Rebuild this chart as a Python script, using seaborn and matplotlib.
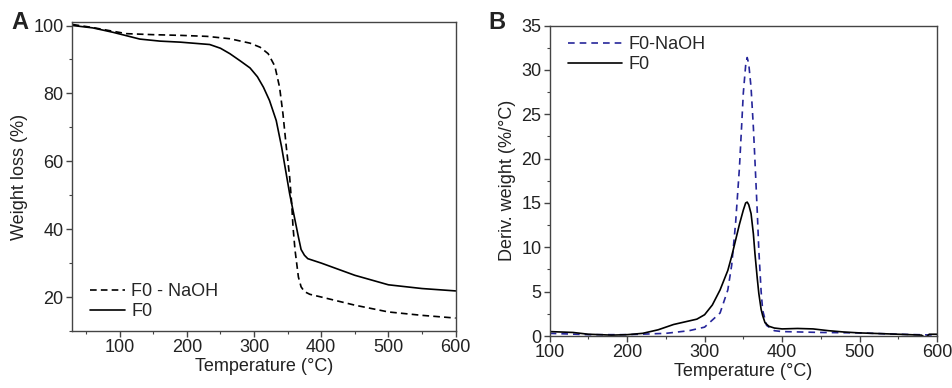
import numpy as np
import pandas as pd
import seaborn as sns
import matplotlib.pyplot as plt
from matplotlib.ticker import MultipleLocator

# panel A: TGA curves
tga_temp_naoh = [30, 60, 90, 110, 150, 190, 230, 264, 294, 309, 321, 331, 338, 343, 348,
                 353, 356, 358, 361, 366, 370, 375, 383, 400, 450, 500, 550, 600]
tga_naoh = [100.3, 99.4, 98.3, 97.6, 97.3, 97.1, 96.8, 96.1, 94.8, 93.6, 91.7, 88.0, 81.8,
            74.0, 64.2, 55.3, 47.5, 40.6, 33.8, 25.9, 23.0, 21.6, 20.8, 20.0, 17.6, 15.6,
            14.6, 13.8]
tga_temp_f0 = [30, 60, 90, 110, 130, 160, 190, 234, 250, 264, 280, 294, 305, 314, 323,
               333, 341, 347, 353, 361, 366, 370, 375, 380, 400, 450, 500, 550, 600]
tga_f0 = [100.0, 99.3, 98.0, 97.0, 96.0, 95.4, 95.1, 94.4, 93.3, 91.7, 89.5, 87.5, 84.9,
          81.8, 77.9, 72.0, 64.2, 57.3, 50.4, 42.6, 37.7, 34.0, 32.3, 31.3, 30.0, 26.4,
          23.6, 22.5, 21.8]

# panel B: DTG curves
dtg_temp_naoh = [100, 150, 200, 250, 280, 300, 320, 330, 335, 340, 345, 348, 350, 353, 355,
                 357, 360, 363, 365, 368, 370, 373, 375, 380, 390, 400, 450, 500, 550, 600]
dtg_naoh = [0.3, 0.15, 0.15, 0.3, 0.6, 1.0, 2.6, 5.2, 8.0, 12.7, 19.0, 24.0, 27.4, 30.5,
            31.4, 30.7, 28.0, 23.5, 19.8, 14.0, 9.7, 5.0, 2.9, 1.2, 0.6, 0.5, 0.4, 0.35,
            0.2, 0.1]
dtg_temp_f0 = [100, 130, 150, 180, 200, 220, 240, 260, 280, 290, 300, 310, 320, 330, 335,
               340, 345, 350, 353, 355, 357, 360, 363, 365, 368, 370, 373, 375, 378, 383,
               390, 400, 420, 440, 460, 480, 500, 550, 580, 585, 590, 600]
dtg_f0 = [0.5, 0.4, 0.2, 0.1, 0.15, 0.3, 0.7, 1.3, 1.7, 1.9, 2.4, 3.5, 5.2, 7.4, 9.0, 10.8,
          12.6, 14.2, 15.0, 15.1, 14.8, 13.8, 11.5, 9.3, 6.5, 4.8, 3.0, 2.3, 1.5, 1.1, 0.9,
          0.8, 0.85, 0.8, 0.6, 0.45, 0.35, 0.2, 0.1, -0.2, 0.2, 0.2]

sns.set_style('ticks')
plt.rcParams['font.family'] = ['Liberation Sans', 'DejaVu Sans']
plt.rcParams['font.size'] = 13
ink = '#222222'

fig = plt.figure(figsize=(9.52, 3.88), dpi=100)
ax1 = fig.add_axes([0.0756, 0.147, 0.403, 0.796])
ax2 = fig.add_axes([0.5774, 0.134, 0.4068, 0.80])

sns.lineplot(x=tga_temp_naoh, y=tga_naoh, ax=ax1, color='black', lw=1.2,
             linestyle=(0, (4, 2.5)), label='F0 - NaOH')
sns.lineplot(x=tga_temp_f0, y=tga_f0, ax=ax1, color='black', lw=1.2, label='F0')
ax1.set_xlim(29, 600)
ax1.set_ylim(10, 101)
ax1.xaxis.set_major_locator(MultipleLocator(100))
ax1.xaxis.set_minor_locator(MultipleLocator(50))
ax1.yaxis.set_major_locator(MultipleLocator(20))
ax1.yaxis.set_minor_locator(MultipleLocator(10))
ax1.set_xlabel('Temperature (°C)', labelpad=1)
ax1.set_ylabel('Weight loss (%)')
ax1.legend(loc='lower left', frameon=False, handlelength=1.9, handletextpad=0.35,
           borderaxespad=0.2, labelspacing=0.15, bbox_to_anchor=(0.02, 0.0))

sns.lineplot(x=dtg_temp_naoh, y=dtg_naoh, ax=ax2, color='#26269a', lw=1.2,
             linestyle=(0, (4, 3)), label='F0-NaOH')
sns.lineplot(x=dtg_temp_f0, y=dtg_f0, ax=ax2, color='black', lw=1.2, label='F0')
ax2.set_xlim(100, 600)
ax2.set_ylim(0, 35)
ax2.xaxis.set_major_locator(MultipleLocator(100))
ax2.xaxis.set_minor_locator(MultipleLocator(50))
ax2.yaxis.set_major_locator(MultipleLocator(5))
ax2.yaxis.set_minor_locator(MultipleLocator(2.5))
ax2.set_xlabel('Temperature (°C)', labelpad=1)
ax2.set_ylabel('Deriv. weight (%/°C)')
ax2.legend(loc='upper left', frameon=False, handlelength=3.0, handletextpad=0.35,
           borderaxespad=0.2, labelspacing=0.15, bbox_to_anchor=(0.02, 1.0))

for ax in (ax1, ax2):
    for s in ax.spines.values():
        s.set_color('#444444')
        s.set_linewidth(1.0)
    ax.tick_params(which='major', direction='out', length=4, width=1, color='#444444',
                   labelcolor=ink, pad=2)
    ax.tick_params(which='minor', direction='out', length=2.5, width=0.8, color='#444444')
    ax.xaxis.label.set_color(ink)
    ax.yaxis.label.set_color(ink)

fig.text(0.012, 0.925, 'A', fontsize=17, fontweight='bold', color=ink)
fig.text(0.513, 0.925, 'B', fontsize=17, fontweight='bold', color=ink)

fig.savefig('out.png', dpi=100)
